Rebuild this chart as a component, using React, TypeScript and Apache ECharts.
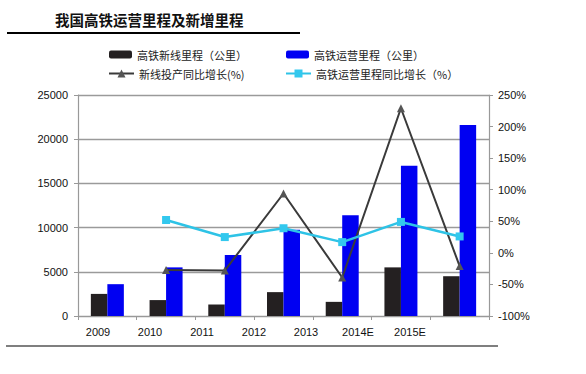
import React, { useEffect, useRef } from "react";
import * as echarts from "echarts";

const categories = ["2009", "2010", "2011", "2012", "2013", "2014E", "2015E"];
const newLineKm = [2500, 1800, 1300, 2700, 1600, 5500, 4500];
const operatingKm = [3600, 5500, 6900, 9750, 11400, 17000, 21600];
const newLineGrowth = [null, -27, -28, 94, -39, 229, -21];
const operatingGrowth = [null, 52, 25, 39, 17, 49, 26];

const nameBarNew = "高铁新线里程（公里）";
const nameBarOp = "高铁运营里程（公里）";
const nameLineNew = "新线投产同比增长(%)";
const nameLineOp = "高铁运营里程同比增长（%）";

const FONT = "'Liberation Sans', Arial, sans-serif";
const CJK = "'Noto Sans CJK SC', sans-serif";

export default function App() {
  const ref = useRef<HTMLDivElement>(null);
  useEffect(() => {
    document.body.style.margin = "0";
    const chart = echarts.init(ref.current!, null, { renderer: "svg" });
    const legendText = { fontFamily: CJK, fontSize: 11, color: "#222" };
    chart.setOption({
      animation: false,
      backgroundColor: "#ffffff",
      graphic: [
        {
          type: "text",
          left: 55,
          top: 12,
          style: { text: "我国高铁运营里程及新增里程", font: "bold 14.5px 'Noto Sans CJK SC'", fill: "#111" },
        },
        { type: "line", shape: { x1: 7, y1: 33, x2: 300, y2: 33 }, style: { stroke: "#000", lineWidth: 2 } },
        { type: "line", shape: { x1: 6, y1: 346, x2: 498, y2: 346 }, style: { stroke: "#000", lineWidth: 1.2 } },
      ],
      legend: [
        { data: [nameBarNew], left: 109, top: 49, padding: 0, itemWidth: 23, itemHeight: 8, itemGap: 3, textStyle: legendText },
        { data: [nameBarOp], left: 286, top: 49, padding: 0, itemWidth: 23, itemHeight: 8, itemGap: 3, textStyle: legendText },
        { data: [nameLineNew], left: 108, top: 68, padding: 0, itemWidth: 25, itemHeight: 10, textStyle: legendText },
        { data: [nameLineOp], left: 285, top: 68, padding: 0, itemWidth: 25, itemHeight: 10, textStyle: legendText },
      ],
      grid: [
        { left: 78, right: 97, top: 95, height: 221 },
        { left: 72, width: 364, top: 95, height: 221 },
      ],
      xAxis: [
        {
          type: "category",
          data: categories,
          gridIndex: 0,
          axisLine: { lineStyle: { color: "#999", width: 1.2 } },
          axisTick: { show: true, length: 4, lineStyle: { color: "#999" } },
          axisLabel: { show: false },
        },
        {
          type: "category",
          data: categories,
          gridIndex: 1,
          axisLine: { show: false },
          axisTick: { show: false },
          axisLabel: { margin: 10, fontFamily: FONT, fontSize: 11, color: "#111" },
        },
      ],
      yAxis: [
        {
          type: "value",
          gridIndex: 0,
          min: 0,
          max: 25000,
          interval: 5000,
          axisLine: { show: true, lineStyle: { color: "#999", width: 1.2 } },
          axisTick: { show: true, length: 4, lineStyle: { color: "#999" } },
          axisLabel: { margin: 10, fontFamily: FONT, fontSize: 11, color: "#111", formatter: (v: number) => String(v) },
          splitLine: { lineStyle: { color: "#9a9a9a", width: 1.3 } },
        },
        {
          type: "value",
          gridIndex: 0,
          position: "right",
          min: -100,
          max: 250,
          interval: 50,
          axisLine: { show: true, lineStyle: { color: "#999", width: 1.2 } },
          axisTick: { show: true, length: 4, lineStyle: { color: "#999" } },
          axisLabel: { margin: 9, fontFamily: FONT, fontSize: 11, color: "#111", formatter: "{value}%" },
          splitLine: { show: false },
        },
        { type: "value", gridIndex: 1, show: false },
      ],
      series: [
        {
          name: nameBarNew,
          type: "bar",
          data: newLineKm,
          barWidth: 16.5,
          barGap: "0%",
          itemStyle: { color: "#242021" },
        },
        {
          name: nameBarOp,
          type: "bar",
          data: operatingKm,
          barWidth: 16.5,
          barGap: "0%",
          itemStyle: { color: "#0000f2" },
        },
        {
          name: nameLineNew,
          type: "line",
          yAxisIndex: 1,
          data: newLineGrowth,
          symbol: "triangle",
          symbolSize: 8,
          lineStyle: { color: "#3a3a3a", width: 2 },
          itemStyle: { color: "#555" },
        },
        {
          name: nameLineOp,
          type: "line",
          yAxisIndex: 1,
          data: operatingGrowth,
          symbol: "rect",
          symbolSize: 8,
          lineStyle: { color: "#2ec3e6", width: 2.5 },
          itemStyle: { color: "#33c8ee" },
        },
      ],
    });
    return () => chart.dispose();
  }, []);
  return <div ref={ref} style={{ width: 586, height: 374 }} />;
}
